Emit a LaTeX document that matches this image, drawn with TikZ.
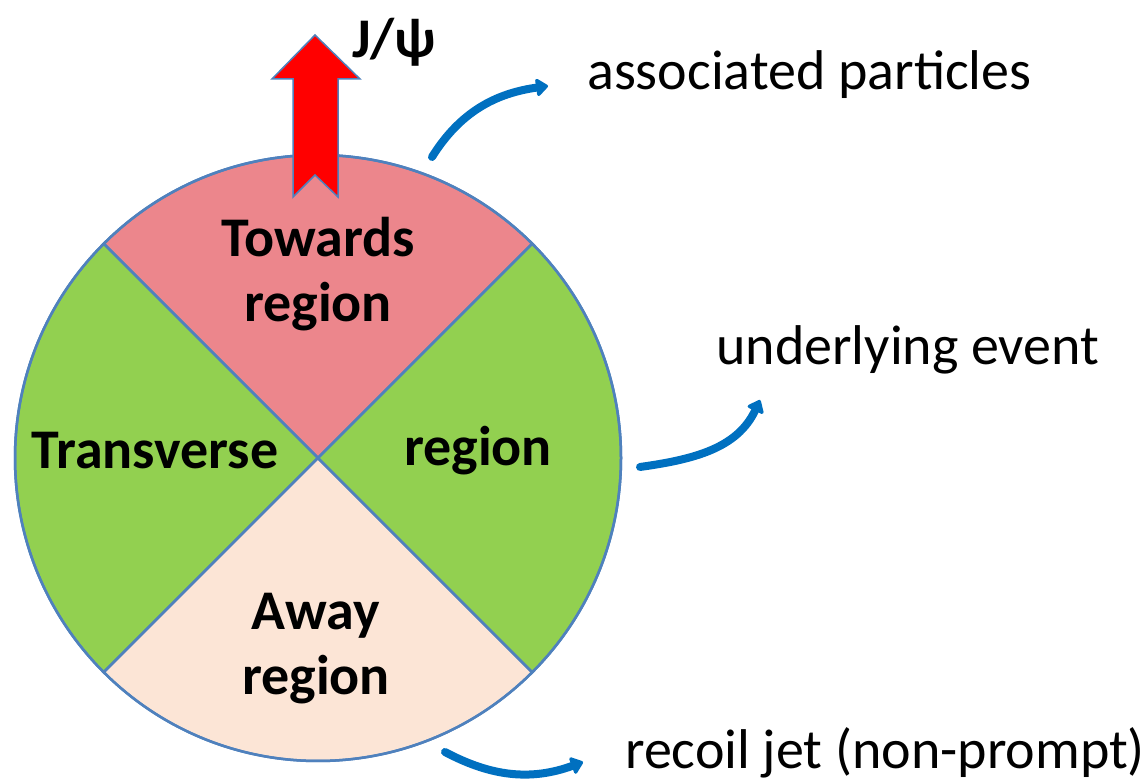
\documentclass[tikz,border=0pt]{standalone}
\usepackage{fontspec}
\setmainfont{Carlito}
\usepackage{tikz}
\usetikzlibrary{positioning,arrows.meta}

\definecolor{towardcol}{RGB}{236,134,140}
\definecolor{transcol}{RGB}{146,208,80}
\definecolor{awaycol}{RGB}{252,229,214}
\definecolor{rimcol}{RGB}{79,129,189}
\definecolor{pointcol}{RGB}{0,112,192}

\begin{document}
\begin{tikzpicture}[x=1pt, y=1pt,
    wedge/.style={draw=rimcol, line width=2.5pt, line join=round},
    region/.style={font=\fontsize{56}{65}\selectfont\bfseries, align=center},
    tag/.style={font=\fontsize{56}{64}\selectfont, anchor=west, inner sep=0pt},
    pointer/.style={draw=pointcol, line width=8pt, line cap=round,
      -{Triangle[round, length=13pt, width=20pt]}}]
  \useasboundingbox (0,0) rectangle (1148,783);
  \coordinate (o) at (318,325);
  % regions of the disc
  \filldraw[wedge, fill=towardcol] (o) -- ++(45:303) arc (45:135:303) -- cycle;
  \filldraw[wedge, fill=transcol] (o) -- ++(135:303) arc (135:225:303) -- cycle;
  \filldraw[wedge, fill=awaycol] (o) -- ++(225:303) arc (225:315:303) -- cycle;
  \filldraw[wedge, fill=transcol] (o) -- ++(315:303) arc (315:405:303) -- cycle;
  \draw[draw=rimcol, line width=2.5pt] (o) circle (303);
  % J/psi direction
  \filldraw[fill=red, draw=rimcol, line width=1.5pt, line join=miter]
    (315,748) -- (360,704) -- (338,704) -- (338,586) -- (315,608)
    -- (293,586) -- (293,704) -- (272,704) -- cycle;
  \node[font=\fontsize{56}{64}\selectfont\bfseries] (jpsi) at (394,741) {J/ψ};
  % labels
  \node[region] (towards) at (318,509) {Towards\\region};
  \node[region] (transl) at (155,332) {Transverse};
  \node[region] (transr) at (478,332) {region};
  \node[region] (away) at (316,134) {Away\\region};
  \node[tag] (assoc) at (587,708) {associated particles};
  \node[tag] (ue) at (716,433) {underlying event};
  \node[tag] (recoil) at (625,30) {recoil jet (non-prompt)};
  % pointers
  \coordinate (p1) at (432,626);
  \coordinate (p2) at (640,316);
  \coordinate (p3) at (445,31);
  \draw[pointer] (p1) to[out=58, in=188] ([xshift=-39pt, yshift=-11pt]assoc.west);
  \draw[pointer] (p2) to[out=8, in=-115] ([xshift=44pt, yshift=-50pt]ue.west);
  \draw[pointer] (p3) to[out=-28, in=200] ([xshift=-42pt, yshift=-9pt]recoil.west);
\end{tikzpicture}
\end{document}
